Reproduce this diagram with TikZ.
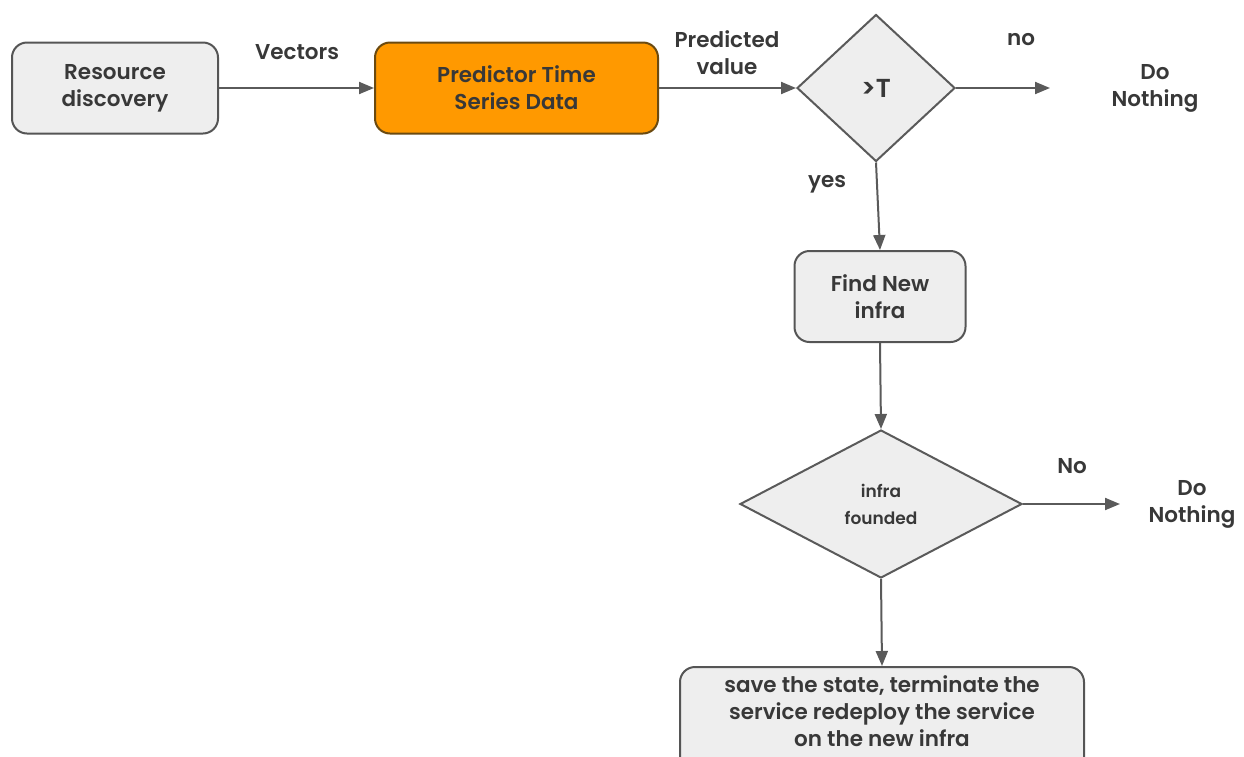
\documentclass[tikz,border=0pt]{standalone}
\usepackage{fontspec}
\setmainfont{Poppins}[UprightFont=* SemiBold, BoldFont=* Bold]
\usetikzlibrary{shapes.geometric,arrows.meta}
\definecolor{boxfill}{HTML}{EEEEEE}
\definecolor{boxline}{HTML}{555555}
\definecolor{flow}{HTML}{5A5A5A}
\definecolor{ink}{HTML}{383838}
\definecolor{accent}{HTML}{FF9900}
\definecolor{accentline}{HTML}{6B4A10}
\tikzset{
  procbox/.style={draw=boxline, fill=boxfill, line width=2pt, rounded corners=15pt,
    align=center, inner sep=0pt, text=ink, font=\fontsize{21.5}{27}\selectfont},
  decision/.style={diamond, draw=flow, fill=boxfill, line width=2pt, inner sep=0pt,
    align=center, text=ink},
  lbl/.style={text=ink, align=center, font=\fontsize{21.5}{27}\selectfont, inner sep=0pt},
  flowarrow/.style={draw=flow, line width=2pt, -{Triangle[length=15pt,width=12pt]}},
}
\begin{document}
\begin{tikzpicture}[x=1pt,y=-1pt]
  \useasboundingbox (0,0) rectangle (1244,756);

  % process boxes
  \node[procbox, minimum width=206pt, minimum height=91pt] (rd) at (115,88)
    {Resource\\discovery};
  \node[procbox, fill=accent, draw=accentline, minimum width=283pt, minimum height=91pt] (pred) at (516.5,88)
    {Predictor Time\\Series Data};
  \node[decision, minimum width=158pt, minimum height=147pt,
    font=\fontsize{26}{30}\selectfont] (gt) at (876,88) {>T};
  \node[procbox, minimum width=171pt, minimum height=91pt] (find) at (880,296.5)
    {Find New\\infra};
  \node[decision, minimum width=282pt, minimum height=148pt,
    font=\fontsize{17}{27}\selectfont] (found) at (881,504) {infra\\founded};
  \node[procbox, minimum width=404pt, minimum height=110pt, anchor=north] (save) at (882,666)
    {};
  \node[lbl, anchor=north] (savetxt) at (882,675)
    {save the state, terminate the\\service redeploy the service\\on the new infra};

  % terminal texts
  \node[lbl] (dn1) at (1155,88) {Do\\Nothing};
  \node[lbl] (dn2) at (1192,504) {Do\\Nothing};

  % connectors
  \draw[flowarrow] (rd.east) -- (pred.west);
  \draw[flowarrow] (pred.east) -- (gt.west);
  \draw[flowarrow, shorten >=105pt] (gt.east) -- (dn1.center);
  \draw[flowarrow] (gt.south) -- (find.north);
  \draw[flowarrow] (find.south) -- (found.north);
  \draw[flowarrow, shorten >=72pt] (found.east) -- (dn2.center);
  \draw[flowarrow] (found.south) -- (save.north);

  % connector labels
  \node[lbl] (lvec) at (297,52) {Vectors};
  \node[lbl] (lpred) at (727,53) {Predicted\\value};
  \node[lbl] (lno) at (1021,40) {no};
  \node[lbl] (lyes) at (827,184) {yes};
  \node[lbl] (lNo) at (1072,466) {No};
\end{tikzpicture}
\end{document}
